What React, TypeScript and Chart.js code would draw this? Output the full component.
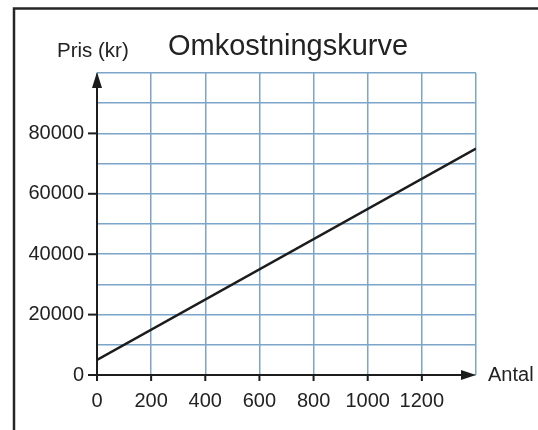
import { useEffect, useRef } from 'react';
import { Chart, registerables } from 'chart.js';

Chart.register(...registerables);

// ---- data ----
const antal = [0, 1400];
const pris = [5000, 75000];
const xTickLabels = [0, 200, 400, 600, 800, 1000, 1200];
const yTickLabels = [0, 20000, 40000, 60000, 80000];
const xMax = 1400;
const yMax = 100000;
const titleText = 'Omkostningskurve';
const yAxisTitle = 'Pris (kr)';
const xAxisTitle = 'Antal';

const FONT = "'Liberation Sans', Arial, Helvetica, sans-serif";
const GRID = '#7ba6c9';
const INK = '#1c1c1c';

const decor = {
  id: 'decor',
  afterDraw(chart: any) {
    const { ctx } = chart;
    const xs = chart.scales.x;
    const ys = chart.scales.y;
    const x0 = xs.getPixelForValue(0);
    const xEnd = xs.getPixelForValue(xMax);
    const y0 = ys.getPixelForValue(0);
    const yTop = ys.getPixelForValue(yMax);
    ctx.save();
    // outer frame (left + top only visible)
    ctx.strokeStyle = '#262626';
    ctx.lineWidth = 2.5;
    ctx.beginPath();
    ctx.moveTo(14, 430);
    ctx.lineTo(14, 8.5);
    ctx.lineTo(538, 8.5);
    ctx.stroke();

    // axes
    ctx.strokeStyle = INK;
    ctx.lineWidth = 2;
    ctx.beginPath();
    ctx.moveTo(x0, y0 + 1);
    ctx.lineTo(x0, yTop + 12);
    ctx.stroke();
    ctx.beginPath();
    ctx.moveTo(x0 - 1, y0);
    ctx.lineTo(xEnd - 12, y0);
    ctx.stroke();

    // arrow heads
    ctx.fillStyle = INK;
    ctx.beginPath();
    ctx.moveTo(x0, yTop - 1);
    ctx.lineTo(x0 - 5, yTop + 15);
    ctx.lineTo(x0 + 5, yTop + 15);
    ctx.closePath();
    ctx.fill();
    ctx.beginPath();
    ctx.moveTo(xEnd, y0);
    ctx.lineTo(xEnd - 15, y0 - 5);
    ctx.lineTo(xEnd - 15, y0 + 5);
    ctx.closePath();
    ctx.fill();

    // tick marks
    ctx.lineWidth = 2;
    yTickLabels.forEach((v) => {
      const py = ys.getPixelForValue(v);
      ctx.beginPath();
      ctx.moveTo(x0 - 9, py);
      ctx.lineTo(x0, py);
      ctx.stroke();
    });
    xTickLabels.forEach((v) => {
      const px = xs.getPixelForValue(v);
      ctx.beginPath();
      ctx.moveTo(px, y0);
      ctx.lineTo(px, y0 + 6);
      ctx.stroke();
    });

    // texts
    ctx.fillStyle = '#222';
    ctx.textBaseline = 'alphabetic';
    ctx.textAlign = 'left';
    ctx.font = `29px ${FONT}`;
    ctx.fillText(titleText, 168, 55);
    ctx.font = `20.5px ${FONT}`;
    ctx.fillText(yAxisTitle, 57, 57);
    ctx.font = `20px ${FONT}`;
    ctx.fillText(xAxisTitle, 488, 381);
    ctx.restore();
  },
};

export default function App() {
  const ref = useRef<HTMLCanvasElement | null>(null);
  useEffect(() => {
    document.body.style.margin = '0';
    const canvas = ref.current;
    if (!canvas) return;
    const chart = new Chart(canvas, {
      type: 'line',
      data: {
        datasets: [
          {
            data: antal.map((a, i) => ({ x: a, y: pris[i] })),
            borderColor: INK,
            borderWidth: 2.5,
            pointRadius: 0,
            fill: false,
            tension: 0,
          },
        ],
      },
      options: {
        animation: false,
        responsive: false,
        devicePixelRatio: 1,
        layout: { padding: { top: 73, right: 62, bottom: 0, left: 0 } },
        plugins: {
          legend: { display: false },
          title: { display: false },
          tooltip: { enabled: false },
        },
        scales: {
          x: {
            type: 'linear',
            min: 0,
            max: xMax,
            afterFit: (s: any) => {
              s.height = 55;
            },
            border: { display: false },
            grid: { color: GRID, lineWidth: 1.5, drawTicks: false },
            ticks: {
              stepSize: 200,
              autoSkip: false,
              maxRotation: 0,
              padding: 14,
              color: '#222',
              font: { family: FONT, size: 20 },
              callback: (v: any) => (xTickLabels.includes(Number(v)) ? String(v) : ''),
            },
          },
          y: {
            type: 'linear',
            min: 0,
            max: yMax,
            afterFit: (s: any) => {
              s.width = 97;
            },
            border: { display: false },
            grid: { color: GRID, lineWidth: 1.5, drawTicks: false },
            ticks: {
              stepSize: 10000,
              autoSkip: false,
              padding: 13,
              color: '#222',
              font: { family: FONT, size: 20 },
              callback: (v: any) => (yTickLabels.includes(Number(v)) ? String(v) : ''),
            },
          },
        },
      },
      plugins: [decor],
    } as any);
    return () => chart.destroy();
  }, []);
  return (
    <canvas
      ref={ref}
      width={538}
      height={430}
      style={{ display: 'block', width: 538, height: 430 }}
    />
  );
}
